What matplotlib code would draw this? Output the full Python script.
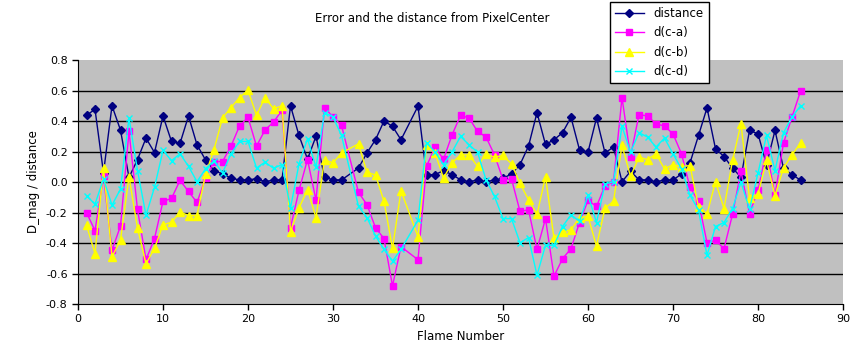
import matplotlib.pyplot as plt

# frames 32 and 39 are absent from the data
frames = list(range(1, 32)) + list(range(33, 39)) + list(range(40, 86))

distance = [0.437, 0.477, 0.06, 0.50, 0.34, 0.03, 0.147, 0.288, 0.193, 0.433,
            0.266, 0.253, 0.433, 0.244, 0.145, 0.075, 0.053, 0.026, 0.013, 0.013,
            0.022, 0.002, 0.013, 0.013, 0.50, 0.305, 0.15, 0.30, 0.03, 0.015,
            0.013, 0.092, 0.191, 0.277, 0.40, 0.365, 0.277, 0.497, 0.048, 0.048,
            0.075, 0.048, 0.015, 0.002, 0.013, 0.002, 0.013, 0.024, 0.053, 0.114,
            0.235, 0.455, 0.246, 0.277, 0.323, 0.424, 0.211, 0.196, 0.42, 0.191,
            0.229, 0.002, 0.07, 0.015, 0.013, 0.002, 0.013, 0.013, 0.053, 0.125,
            0.305, 0.486, 0.218, 0.167, 0.092, 0.031, 0.338, 0.316, 0.114, 0.338,
            0.09, 0.048, 0.013]

d_ca = [-0.20, -0.319, 0.037, -0.448, -0.288, 0.332, -0.18, -0.508, -0.371, -0.127,
        -0.108, 0.011, -0.062, -0.134, 0.024, 0.134, 0.134, 0.235, 0.367, 0.424,
        0.235, 0.341, 0.393, 0.47, -0.299, -0.055, 0.147, -0.119, 0.488, 0.426,
        0.371, -0.068, -0.149, -0.30, -0.371, -0.681, -0.424, -0.51, 0.103, 0.229,
        0.149, 0.308, 0.437, 0.42, 0.332, 0.295, 0.178, 0.015, 0.02, -0.193,
        -0.182, -0.442, -0.24, -0.618, -0.503, -0.437, -0.266, -0.121, -0.16, -0.024,
        0.002, 0.554, 0.167, 0.442, 0.433, 0.382, 0.367, 0.316, 0.185, -0.035,
        -0.127, -0.398, -0.382, -0.437, -0.213, 0.07, -0.207, -0.053, 0.207, -0.086,
        0.255, 0.426, 0.596]

d_cb = [-0.283, -0.47, 0.092, -0.49, -0.382, 0.035, -0.303, -0.536, -0.435, -0.281,
        -0.264, -0.196, -0.22, -0.22, 0.05, 0.213, 0.42, 0.488, 0.554, 0.602,
        0.437, 0.554, 0.481, 0.499, -0.325, -0.171, -0.05, -0.233, 0.145, 0.125,
        0.191, 0.25, 0.064, 0.046, -0.127, -0.435, -0.057, -0.36, 0.24, 0.191,
        0.026, 0.125, 0.178, 0.178, 0.103, 0.182, 0.163, 0.174, 0.119, -0.009,
        -0.116, -0.213, 0.035, -0.369, -0.325, -0.314, -0.233, -0.226, -0.42, -0.171,
        -0.127, 0.24, 0.037, 0.163, 0.147, 0.185, 0.086, 0.114, 0.10, 0.108,
        -0.163, -0.211, 0.002, -0.174, 0.141, 0.382, -0.108, -0.079, 0.141, -0.09,
        0.092, 0.178, 0.255]

d_cd = [-0.09, -0.145, 0.02, -0.152, -0.046, 0.42, 0.075, -0.218, -0.035, 0.207,
        0.14, 0.185, 0.103, 0.002, 0.086, 0.138, 0.06, 0.185, 0.266, 0.266,
        0.092, 0.13, 0.09, 0.114, -0.17, 0.119, 0.283, 0.097, 0.455, 0.426,
        0.305, -0.16, -0.233, -0.354, -0.442, -0.519, -0.442, -0.25, 0.257, 0.196,
        0.114, 0.196, 0.299, 0.244, 0.196, 0.015, -0.095, -0.24, -0.24, -0.398,
        -0.365, -0.611, -0.415, -0.415, -0.292, -0.215, -0.259, -0.086, -0.266, -0.013,
        0.002, 0.365, 0.196, 0.323, 0.295, 0.229, 0.288, 0.185, 0.086, -0.086,
        -0.185, -0.481, -0.292, -0.266, -0.174, -0.002, -0.178, 0.059, 0.305, 0.075,
        0.323, 0.426, 0.499]

xticks = [0, 10, 20, 30, 40, 50, 60, 70, 80, 90]
yticks = [-0.8, -0.6, -0.4, -0.2, 0.0, 0.2, 0.4, 0.6, 0.8]

fig = plt.figure(figsize=(8.55, 3.64), dpi=100)
ax = fig.add_axes([78 / 855, 1 - 304 / 364, 765 / 855, 244 / 364])
ax.set_facecolor('#c0c0c0')

ax.plot(frames, distance, color='#000080', marker='D', markersize=4.5, lw=1, label='distance')
ax.plot(frames, d_ca, color='#ff00ff', marker='s', markersize=5, lw=1, label='d(c-a)')
ax.plot(frames, d_cb, color='#ffff00', marker='^', markersize=5.5, lw=1, label='d(c-b)')
ax.plot(frames, d_cd, color='#00ffff', marker='x', markersize=4, mew=1, lw=1, label='d(c-d)')

ax.set_xlim(0, 90)
ax.set_ylim(-0.8, 0.8)
ax.set_xticks(xticks)
ax.set_yticks(yticks)
ax.set_yticklabels(['%.1f' % v for v in yticks])
# horizontal grid lines, no line along the top edge
for v in yticks[1:-1]:
    ax.axhline(v, color='black', lw=1, zorder=0.5)
for s in ['top', 'right']:
    ax.spines[s].set_visible(False)
ax.tick_params(labelsize=8, length=4, direction='out', width=1)

ax.set_xlabel('Flame Number', fontsize=8.5)
ax.set_ylabel('D_mag / distance', fontsize=8.5)
fig.text(432 / 855, 1 - 18 / 364, 'Error and the distance from PixelCenter',
         ha='center', va='center', fontsize=8.5)

leg = fig.legend(loc='upper left', bbox_to_anchor=(610 / 855, 1 - 2 / 364),
                 fontsize=8.5, frameon=True, fancybox=False, borderpad=0.4,
                 handlelength=2.5, labelspacing=0.55, borderaxespad=0)
leg.get_frame().set_edgecolor('black')
leg.get_frame().set_linewidth(1)
leg.get_frame().set_alpha(1)

fig.savefig('out.png', dpi=100, facecolor='white')
